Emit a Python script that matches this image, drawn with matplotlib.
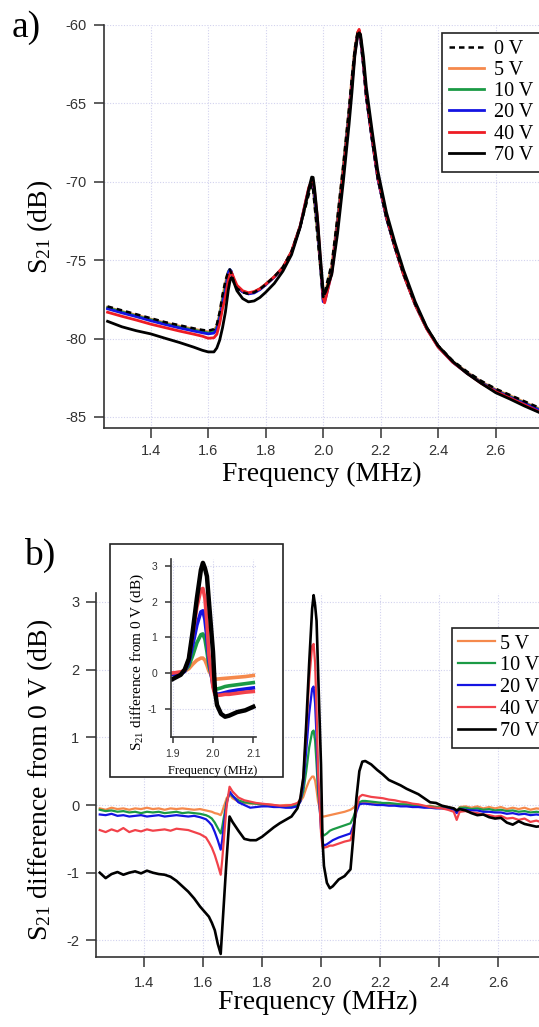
import numpy as np
import matplotlib
matplotlib.use("Agg")
import matplotlib.pyplot as plt
from matplotlib.patches import Rectangle

plt.rcParams['font.family'] = ['Liberation Serif', 'DejaVu Serif']
plt.rcParams['mathtext.fontset'] = 'custom'
plt.rcParams['mathtext.rm'] = 'Liberation Serif'
plt.rcParams['mathtext.it'] = 'Liberation Serif:italic'

# ---------------- panel a: transmission S21 (dB) ----------------
freq_a = [1.25, 1.30, 1.35, 1.40, 1.45, 1.50, 1.55, 1.58, 1.60,
          1.62, 1.63, 1.64, 1.65, 1.66, 1.67, 1.675, 1.68, 1.685, 1.69, 1.70,
          1.72, 1.74, 1.76, 1.78, 1.80, 1.83, 1.86, 1.89, 1.92,
          1.94, 1.95, 1.96, 1.965, 1.97, 1.98, 1.99, 2.00, 2.005, 2.01, 2.03,
          2.05, 2.07, 2.09, 2.10, 2.11, 2.12, 2.125, 2.13, 2.14, 2.15,
          2.17, 2.19, 2.22, 2.25, 2.28, 2.32, 2.36, 2.40, 2.45, 2.50, 2.55, 2.60, 2.65, 2.70, 2.75]

s21_0v = [-77.95, -78.2, -78.45, -78.7, -78.95, -79.15, -79.35, -79.45, -79.5,
          -79.4, -79.1, -78.3, -77.2, -76.3, -75.7, -75.6, -75.8, -76.15, -76.45, -76.8,
          -77.05, -77.15, -77.05, -76.85, -76.55, -76.05, -75.45, -74.45, -72.85,
          -71.5, -70.8, -70.15, -70.5, -71.5, -73.4, -75.4, -77.35, -77.1, -76.7, -75.2,
          -72.2, -68.9, -65.3, -63.3, -61.5, -60.45, -60.4, -60.9, -62.6, -64.6,
          -67.3, -69.8, -72.3, -74.2, -75.9, -77.8, -79.3, -80.45, -81.4, -82.1, -82.7, -83.2, -83.6, -84.0, -84.4]

s21_5v = [-78.0, -78.27, -78.5, -78.76, -79.0, -79.21, -79.4, -79.51, -79.57,
          -79.48, -79.2, -78.42, -77.33, -76.45, -75.72, -75.6, -75.75, -76.1, -76.4, -76.75,
          -77.02, -77.13, -77.04, -76.83, -76.55, -76.05, -75.46, -74.45, -72.83,
          -71.4, -70.6, -70.05, -70.35, -71.3, -73.2, -75.35, -77.45, -77.27, -76.87, -75.35,
          -72.32, -69.0, -65.37, -63.36, -61.53, -60.45, -60.39, -60.88, -62.57, -64.57,
          -67.27, -69.78, -72.29, -74.2, -75.91, -77.8, -79.32, -80.48, -81.45, -82.14, -82.75, -83.25, -83.64, -84.06, -84.46]

s21_10v = [-78.04, -78.3, -78.56, -78.8, -79.05, -79.27, -79.46, -79.57, -79.64,
           -79.57, -79.3, -78.56, -77.54, -76.72, -75.75, -75.6, -75.72, -76.05, -76.35, -76.72,
           -77.0, -77.12, -77.03, -76.83, -76.55, -76.06, -75.47, -74.47, -72.83,
           -71.3, -70.55, -70.05, -70.25, -71.1, -73.0, -75.3, -77.55, -77.5, -77.15, -75.6,
           -72.58, -69.23, -65.57, -63.57, -61.7, -60.5, -60.38, -60.85, -62.55, -64.55,
           -67.25, -69.77, -72.29, -74.21, -75.93, -77.83, -79.35, -80.51, -81.48, -82.18, -82.8, -83.3, -83.7, -84.11, -84.51]

s21_20v = [-78.1, -78.36, -78.6, -78.86, -79.1, -79.32, -79.52, -79.63, -79.7,
           -79.65, -79.4, -78.7, -77.72, -76.96, -75.8, -75.6, -75.7, -76.02, -76.33, -76.7,
           -77.02, -77.15, -77.09, -76.88, -76.57, -76.08, -75.48, -74.49, -72.85,
           -71.2, -70.45, -70.0, -70.15, -70.9, -72.7, -75.15, -77.65, -77.65, -77.3, -75.75,
           -72.7, -69.35, -65.72, -63.72, -61.8, -60.55, -60.38, -60.88, -62.58, -64.58,
           -67.29, -69.8, -72.31, -74.22, -75.92, -77.83, -79.35, -80.52, -81.5, -82.2, -82.82, -83.32, -83.74, -84.14, -84.55]

s21_40v = [-78.32, -78.58, -78.82, -79.08, -79.3, -79.52, -79.72, -79.85, -79.98,
           -79.95, -79.73, -79.04, -78.08, -77.33, -76.25, -75.88, -75.75, -75.95, -76.18, -76.6,
           -76.95, -77.08, -77.0, -76.82, -76.53, -76.06, -75.46, -74.45, -72.82,
           -71.15, -70.35, -69.95, -70.0, -70.6, -72.3, -74.95, -77.4, -77.72, -77.33, -75.8,
           -72.77, -69.44, -65.82, -63.82, -61.85, -60.5, -60.28, -60.75, -62.45, -64.46,
           -67.18, -69.7, -72.24, -74.2, -75.94, -77.85, -79.38, -80.55, -81.5, -82.21, -82.86, -83.37, -83.79, -84.22, -84.66]

s21_70v = [-78.9, -79.25, -79.5, -79.7, -79.98, -80.25, -80.55, -80.75, -80.85,
           -80.85, -80.6, -80.1, -79.3, -78.3, -76.9, -76.4, -76.12, -76.15, -76.45, -76.95,
           -77.45, -77.66, -77.6, -77.38, -77.05, -76.48, -75.7, -74.65, -72.9,
           -71.3, -70.45, -69.7, -69.72, -70.4, -72.3, -74.7, -76.95, -77.15, -76.95, -75.9,
           -73.3, -70.0, -66.35, -64.3, -62.0, -60.65, -60.5, -60.6, -62.0, -63.95,
           -66.7, -69.3, -71.95, -73.9, -75.65, -77.65, -79.28, -80.47, -81.45, -82.22, -82.86, -83.45, -83.86, -84.3, -84.7]

# ---------------- panel b: S21 difference from 0 V (dB) ----------------
freq_b = [1.25, 1.27, 1.29, 1.31, 1.33, 1.35, 1.37, 1.39, 1.41, 1.43, 1.45, 1.47, 1.49, 1.51, 1.53, 1.55, 1.57, 1.59, 1.61,
          1.62, 1.63, 1.64, 1.65, 1.66, 1.665, 1.67, 1.675, 1.68, 1.69, 1.70,
          1.72, 1.74, 1.76, 1.78, 1.80, 1.82, 1.84, 1.86, 1.88, 1.90, 1.92,
          1.93, 1.94, 1.95, 1.96, 1.97, 1.975, 1.98, 1.985, 1.99, 2.00, 2.005, 2.01, 2.02, 2.03, 2.04, 2.06, 2.08, 2.10,
          2.11, 2.12, 2.13, 2.14, 2.15,
          2.17, 2.19, 2.21, 2.23, 2.25, 2.27, 2.29, 2.31, 2.33, 2.35, 2.37, 2.39, 2.41, 2.43, 2.45, 2.46, 2.47,
          2.49, 2.51, 2.53, 2.55, 2.57, 2.59, 2.61, 2.63, 2.65, 2.67, 2.69, 2.71, 2.73, 2.75]

diff_5v = [-0.05, -0.07, -0.04, -0.06, -0.05, -0.07, -0.05, -0.06, -0.04, -0.06, -0.05, -0.07, -0.05, -0.06, -0.05, -0.06, -0.07, -0.06, -0.08,
           -0.09, -0.10, -0.12, -0.13, -0.15, -0.10, -0.03, 0.03, 0.10, 0.16, 0.10,
           0.05, 0.03, 0.02, 0.02, 0.00, 0.01, 0.00, -0.01, 0.00, 0.00, 0.02,
           0.05, 0.12, 0.25, 0.36, 0.42, 0.42, 0.36, 0.22, 0.05, -0.12, -0.17, -0.17, -0.16, -0.15, -0.14, -0.12, -0.10, -0.07,
           -0.04, 0.00, 0.02, 0.03, 0.03,
           0.03, 0.02, 0.02, 0.01, 0.00, 0.01, 0.00, -0.01, 0.00, -0.02, -0.01, -0.03, -0.02, -0.03, -0.05, -0.10, -0.03,
           -0.02, -0.04, -0.02, -0.05, -0.03, -0.05, -0.03, -0.06, -0.04, -0.06, -0.04, -0.07, -0.05, -0.06]

diff_10v = [-0.07, -0.09, -0.08, -0.10, -0.09, -0.11, -0.10, -0.12, -0.10, -0.11, -0.10, -0.12, -0.11, -0.10, -0.12, -0.11, -0.12, -0.13, -0.15,
            -0.17, -0.20, -0.26, -0.34, -0.42, -0.33, -0.20, -0.08, 0.05, 0.18, 0.13,
            0.07, 0.04, 0.03, 0.02, 0.01, 0.00, -0.01, -0.02, -0.02, -0.02, 0.00,
            0.06, 0.20, 0.50, 0.85, 1.08, 1.10, 0.95, 0.60, 0.20, -0.25, -0.42, -0.45, -0.42, -0.38, -0.36, -0.33, -0.30, -0.27,
            -0.18, -0.05, 0.04, 0.06, 0.06,
            0.05, 0.04, 0.03, 0.03, 0.02, 0.01, 0.01, 0.00, -0.01, -0.02, -0.02, -0.03, -0.04, -0.04, -0.06, -0.10, -0.04,
            -0.04, -0.06, -0.05, -0.07, -0.06, -0.08, -0.07, -0.09, -0.08, -0.10, -0.09, -0.11, -0.10, -0.11]

diff_20v = [-0.14, -0.15, -0.13, -0.16, -0.15, -0.17, -0.16, -0.15, -0.17, -0.16, -0.15, -0.17, -0.16, -0.15, -0.16, -0.17, -0.16, -0.18, -0.21,
            -0.25, -0.30, -0.40, -0.52, -0.66, -0.52, -0.33, -0.15, 0.02, 0.20, 0.14,
            0.04, 0.00, -0.04, -0.03, -0.02, -0.02, -0.03, -0.03, -0.04, -0.04, -0.02,
            0.05, 0.30, 0.80, 1.35, 1.72, 1.75, 1.50, 1.00, 0.35, -0.35, -0.55, -0.60, -0.58, -0.55, -0.52, -0.48, -0.45, -0.42,
            -0.30, -0.10, 0.01, 0.02, 0.02,
            0.01, 0.00, 0.00, -0.01, -0.01, -0.02, -0.02, -0.03, -0.03, -0.04, -0.04, -0.05, -0.05, -0.06, -0.07, -0.12, -0.06,
            -0.07, -0.08, -0.08, -0.10, -0.10, -0.11, -0.11, -0.13, -0.12, -0.14, -0.13, -0.15, -0.14, -0.15]

diff_40v = [-0.37, -0.40, -0.36, -0.39, -0.34, -0.40, -0.37, -0.39, -0.36, -0.38, -0.37, -0.36, -0.38, -0.35, -0.36, -0.37, -0.40, -0.43, -0.48,
            -0.55, -0.63, -0.74, -0.88, -1.03, -0.82, -0.55, -0.28, -0.02, 0.27, 0.20,
            0.11, 0.07, 0.05, 0.03, 0.02, 0.01, 0.00, -0.01, -0.01, 0.00, 0.03,
            0.08, 0.40, 1.10, 1.85, 2.35, 2.38, 2.10, 1.40, 0.50, -0.40, -0.62, -0.63, -0.62, -0.60, -0.60, -0.57, -0.54, -0.52,
            -0.35, -0.05, 0.12, 0.15, 0.14,
            0.12, 0.11, 0.10, 0.08, 0.07, 0.05, 0.04, 0.02, 0.01, -0.01, -0.03, -0.04, -0.05, -0.07, -0.10, -0.22, -0.10,
            -0.09, -0.11, -0.12, -0.14, -0.15, -0.17, -0.16, -0.20, -0.19, -0.22, -0.20, -0.25, -0.23, -0.26]

diff_70v = [-1.00, -1.08, -1.02, -0.99, -1.03, -1.00, -0.98, -1.01, -0.97, -1.00, -1.02, -1.03, -1.06, -1.12, -1.20, -1.28, -1.38, -1.50, -1.60,
            -1.65, -1.74, -1.85, -2.05, -2.20, -1.85, -1.50, -1.15, -0.80, -0.17, -0.25,
            -0.38, -0.50, -0.52, -0.52, -0.47, -0.40, -0.33, -0.27, -0.22, -0.17, -0.05,
            0.10, 0.40, 1.20, 2.10, 2.90, 3.10, 2.95, 2.72, 2.00, 0.60, -0.50, -0.90, -1.15, -1.23, -1.20, -1.10, -1.05, -0.95,
            -0.45, 0.10, 0.50, 0.64, 0.65,
            0.60, 0.52, 0.45, 0.37, 0.33, 0.29, 0.24, 0.20, 0.16, 0.10, 0.04, 0.03, -0.01, -0.03, -0.05, -0.08, -0.06,
            -0.08, -0.12, -0.15, -0.14, -0.18, -0.20, -0.19, -0.26, -0.29, -0.24, -0.28, -0.30, -0.32, -0.31]

voltage_labels = ['0 V', '5 V', '10 V', '20 V', '40 V', '70 V']
colors = {'0 V': 'black', '5 V': '#f5894c', '10 V': '#1b9a45', '20 V': '#1414e2',
          '40 V': '#ee1c24', '70 V': 'black'}
color_b = {'5 V': '#f5894c', '10 V': '#1b9a45', '20 V': '#1414e2', '40 V': '#f2424a', '70 V': 'black'}

GRID_COLOR = '#d2d2ee'
TICK_COLOR = '#333333'


def style_axes(ax, lab_size=10.5, tick_len=7.5, xpad=4.0, ypad=5.0):
    for side in ('top', 'right'):
        ax.spines[side].set_visible(False)
    for side in ('left', 'bottom'):
        ax.spines[side].set_color(TICK_COLOR)
        ax.spines[side].set_linewidth(1.2)
    ax.tick_params(direction='out', length=tick_len, width=1.1, color=TICK_COLOR,
                   labelsize=lab_size, labelcolor=TICK_COLOR,
                   labelfontfamily='Liberation Sans')
    ax.tick_params(axis='x', pad=xpad)
    ax.tick_params(axis='y', pad=ypad)
    ax.grid(True, color=GRID_COLOR, linestyle=(0, (1, 1.5)), linewidth=0.8)
    ax.set_axisbelow(True)


fig = plt.figure(figsize=(5.39, 10.27), dpi=100)

# ---------------- panel a ----------------
ax_a = fig.add_axes([104 / 539, 0.5833, 435 / 539, 0.3924])
series_a = {'0 V': s21_0v, '5 V': s21_5v, '10 V': s21_10v, '20 V': s21_20v,
            '40 V': s21_40v, '70 V': s21_70v}
handles = {}
for lab in ['5 V', '10 V', '20 V', '0 V', '40 V', '70 V']:
    if lab == '0 V':
        ln, = ax_a.plot(freq_a, series_a[lab], color='black', lw=1.8,
                        linestyle=(0, (2.2, 1.6)), zorder=3)
    else:
        ln, = ax_a.plot(freq_a, series_a[lab], color=colors[lab], lw=2.0, zorder=2)
    handles[lab] = ln

ax_a.set_xlim(1.2376, 2.7507)
ax_a.set_ylim(-85.70, -60.0)
ax_a.set_xticks([1.4, 1.6, 1.8, 2.0, 2.2, 2.4, 2.6])
ax_a.set_xticklabels(['1.4', '1.6', '1.8', '2.0', '2.2', '2.4', '2.6'])
ax_a.set_yticks([-85, -80, -75, -70, -65, -60])
ax_a.set_yticklabels(['-85', '-80', '-75', '-70', '-65', '-60'])
style_axes(ax_a, xpad=4.0, ypad=5.0)
ax_a.set_xlabel('Frequency (MHz)', fontsize=20, va='top')
ax_a.xaxis.set_label_coords(0.5, -0.083)
ax_a.set_ylabel(r'S$_{\mathregular{21}}$ (dB)', fontsize=20)
ax_a.yaxis.set_label_coords(-0.112, 0.5)

leg_a = ax_a.legend([handles[l] for l in voltage_labels], voltage_labels,
                    loc='upper left', bbox_to_anchor=(442 / 539, 1 - 33 / 1027),
                    bbox_transform=fig.transFigure, borderaxespad=0,
                    frameon=True, fancybox=False, edgecolor='#222222', framealpha=1,
                    prop={'family': 'Liberation Serif', 'size': 14.5},
                    handlelength=1.75, handletextpad=0.5, labelspacing=0.1,
                    borderpad=0.35)
leg_a.get_frame().set_linewidth(1.2)

# ---------------- panel b ----------------
ax_b = fig.add_axes([96 / 539, 0.06845, 443 / 539, 0.3540])
diffs = {'5 V': diff_5v, '10 V': diff_10v, '20 V': diff_20v, '40 V': diff_40v, '70 V': diff_70v}
hb = {}
for lab in ['5 V', '10 V', '20 V', '40 V', '70 V']:
    lw = 1.9 if lab == '70 V' else 1.6
    ln, = ax_b.plot(freq_b, diffs[lab], color=color_b[lab], lw=lw, zorder=2)
    hb[lab] = ln

ax_b.set_xlim(1.2373, 2.739)
ax_b.set_ylim(-2.241, 3.13)
ax_b.set_xticks([1.4, 1.6, 1.8, 2.0, 2.2, 2.4, 2.6])
ax_b.set_xticklabels(['1.4', '1.6', '1.8', '2.0', '2.2', '2.4', '2.6'])
ax_b.set_yticks([-2, -1, 0, 1, 2, 3])
ax_b.set_yticklabels(['-2', '-1', '0', '1', '2', '3'])
style_axes(ax_b, xpad=6.5, ypad=4.5)
ax_b.set_xlabel('Frequency (MHz)', fontsize=20, va='top')
ax_b.xaxis.set_label_coords(0.5, -0.092)
ax_b.set_ylabel(r'S$_{\mathregular{21}}$ difference from 0 V (dB)', fontsize=20)
ax_b.yaxis.set_label_coords(-0.093, 0.486)

leg_b = ax_b.legend([hb[l] for l in voltage_labels[1:]], voltage_labels[1:],
                    loc='upper left', bbox_to_anchor=(452 / 539, 1 - 628 / 1027),
                    bbox_transform=fig.transFigure, borderaxespad=0,
                    frameon=True, fancybox=False, edgecolor='#222222', framealpha=1,
                    prop={'family': 'Liberation Serif', 'size': 14.5},
                    handlelength=1.8, handletextpad=0.25, labelspacing=0.14,
                    borderpad=0.32)
leg_b.get_frame().set_linewidth(1.2)

# ---------------- inset of panel b ----------------
frame = Rectangle((110 / 539, 1 - 777 / 1027), 173 / 539, 233 / 1027,
                  transform=fig.transFigure, facecolor='white', edgecolor='#222222',
                  linewidth=1.2, zorder=5)
fig.patches.append(frame)

ax_in = fig.add_axes([171 / 539, 0.2824, 84.7 / 539, 0.1730], zorder=6)
ax_in.patch.set_alpha(0)
fb = np.array(freq_b)
sel = (fb >= 1.899) & (fb <= 2.101)
for lab in ['5 V', '10 V', '20 V', '40 V', '70 V']:
    lw = 3.2 if lab == '70 V' else 2.6
    ax_in.plot(fb[sel], np.array(diffs[lab])[sel], color=color_b[lab], lw=lw)
ax_in.set_xlim(1.8958, 2.106)
ax_in.set_ylim(-1.8, 3.2)
ax_in.set_xticks([1.9, 2.0, 2.1])
ax_in.set_xticklabels(['1.9', '2.0', '2.1'])
ax_in.set_yticks([-1, 0, 1, 2, 3])
ax_in.set_yticklabels(['-1', '0', '1', '2', '3'])
style_axes(ax_in, lab_size=7.5, tick_len=4, xpad=5, ypad=6)
ax_in.set_xlabel('Frequency (MHz)', fontsize=9, va='top')
ax_in.xaxis.set_label_coords(0.49, -0.16)
ax_in.set_ylabel(r'S$_{\mathregular{21}}$ difference from 0 V (dB)', fontsize=11)
ax_in.yaxis.set_label_coords(-0.30, 0.42)

# panel tags
fig.text(12 / 539, 1 - 10 / 1027, 'a)', fontsize=27, ha='left', va='top')
fig.text(24 / 539, 1 - 538 / 1027, 'b)', fontsize=27, ha='left', va='top')

fig.savefig('out.png', dpi=100)
